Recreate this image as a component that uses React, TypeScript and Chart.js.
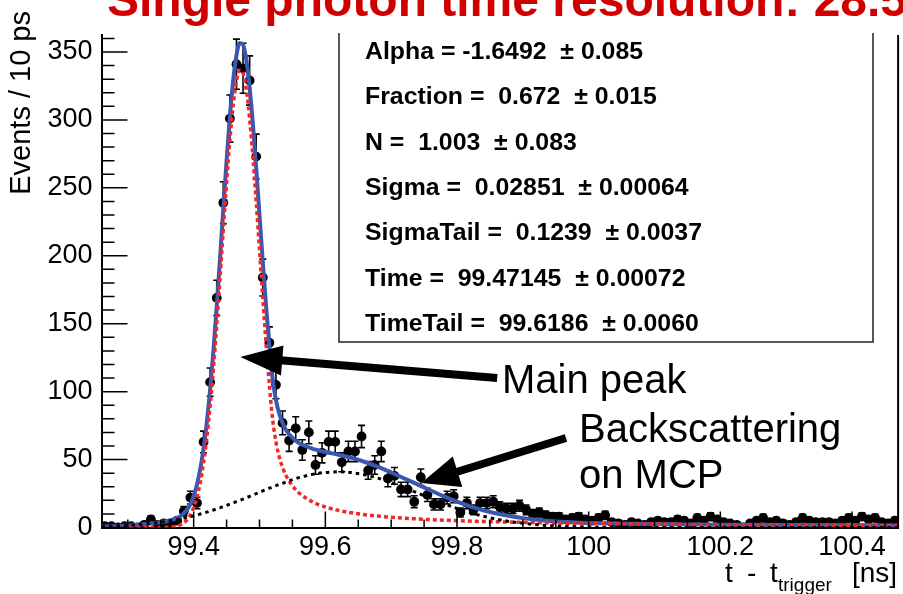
import { useEffect, useRef } from 'react';
import { Chart, registerables } from 'chart.js';

Chart.register(...registerables);

// ---- histogram binning (10 ps bins) ----
const binStart = 99.26;
const binWidth = 0.01;
const counts = [
  1, 1, 0, 1, 1, 0, 2, 6, 2, 3,
  2, 5, 12, 22, 18, 63, 107, 169, 239, 301,
  341, 338, 329, 273, 184, 136, 105, 77, 64, 73,
  57, 70, 46, 55, 63, 63, 48, 56, 56, 67,
  42, 46, 56, 36, 38, 28, 28, 19, 37, 24,
  17, 17, 22, 23, 11, 18, 13, 18, 18, 19,
  15, 14, 14, 16, 13, 10, 11, 9, 8, 8,
  6, 7, 8, 6, 5, 7, 9, 4, 3, 2,
  4, 3, 2, 4, 5, 4, 4, 6, 5, 3,
  7, 5, 8, 6, 4, 3, 2, 0, 3, 5,
  7, 4, 5, 3, 2, 4, 7, 5, 4, 4,
  4, 3, 5, 7, 5, 8, 6, 7, 4, 3,
  5,
];

// ---- fit curves ----
const curveT = [
  99.26, 99.30, 99.34, 99.36, 99.38, 99.39, 99.395, 99.40, 99.405, 99.41,
  99.415, 99.42, 99.425, 99.43, 99.435, 99.44, 99.445, 99.45, 99.455, 99.46,
  99.465, 99.47, 99.475, 99.48, 99.485, 99.49, 99.495, 99.50, 99.505, 99.51,
  99.515, 99.52, 99.525, 99.53, 99.535, 99.54, 99.55, 99.56, 99.58, 99.60,
  99.62, 99.64, 99.66, 99.68, 99.70, 99.72, 99.74, 99.76, 99.78, 99.80,
  99.82, 99.84, 99.86, 99.88, 99.90, 99.94, 99.98, 100.02, 100.06, 100.10,
  100.15, 100.20, 100.25, 100.30, 100.35, 100.40, 100.47,
];
const fitTotal = [
  0.6, 1.5, 3.3, 4.8, 8.4, 13.2, 17.2, 23.2, 31.5, 42.9,
  58.1, 77.5, 101.5, 130.0, 162.5, 197.9, 234.5, 270.1, 302.5, 329.0,
  347.5, 356.6, 355.3, 344.1, 323.9, 296.6, 264.5, 230.0, 195.5, 163.0,
  133.8, 109.3, 93.8, 83.7, 76.9, 72.0, 65.9, 62.1, 58.1, 55.6,
  53.6, 51.2, 48.2, 44.7, 40.5, 36.1, 31.7, 27.2, 22.9, 19.0,
  15.6, 12.7, 10.3, 8.4, 6.9, 4.8, 3.7, 3.1, 2.8, 2.5,
  2.3, 2.1, 2.0, 1.9, 1.8, 1.7, 1.5,
];
const fitMainPeak = [
  0, 0, 0, 0.2, 2.0, 5.7, 9.2, 14.6, 22.3, 33.0,
  47.5, 66.2, 89.4, 117.1, 148.8, 183.4, 219.1, 253.9, 285.3, 310.9,
  328.5, 336.6, 334.4, 322.2, 301.0, 272.7, 239.6, 204.1, 168.6, 135.1,
  104.9, 79.4, 63.0, 51.9, 44.3, 38.5, 30.7, 25.4, 19.0, 15.1,
  12.6, 10.8, 9.4, 8.4, 7.5, 6.8, 6.3, 5.8, 5.4, 5.0,
  4.7, 4.4, 4.2, 4.0, 3.8, 3.4, 3.1, 2.9, 2.7, 2.5,
  2.3, 2.1, 2.0, 1.9, 1.8, 1.7, 1.5,
];
const fitBackscatter = [
  0.6, 1.5, 3.3, 4.6, 6.4, 7.5, 8.0, 8.6, 9.2, 9.9,
  10.6, 11.3, 12.1, 12.9, 13.7, 14.5, 15.4, 16.2, 17.2, 18.1,
  19.0, 20.0, 20.9, 21.9, 22.9, 23.9, 24.9, 25.9, 26.9, 27.9,
  28.9, 29.9, 30.8, 31.8, 32.6, 33.5, 35.2, 36.7, 39.1, 40.5,
  41.0, 40.4, 38.8, 36.3, 33.0, 29.3, 25.4, 21.4, 17.5, 14.0,
  10.9, 8.3, 6.1, 4.4, 3.1, 1.4, 0.6, 0.2, 0.1, 0,
  0, 0, 0, 0, 0, 0, 0,
];

// ---- axes ----
const xMin = 99.26;
const xMax = 100.47;
const yMin = 0;
const yMax = 362.5;
const xTickValues = [99.4, 99.6, 99.8, 100, 100.2, 100.4];
const xTickLabels = ['99.4', '99.6', '99.8', '100', '100.2', '100.4'];
const yTickValues = [0, 50, 100, 150, 200, 250, 300, 350];
const yTickLabels = ['0', '50', '100', '150', '200', '250', '300', '350'];

const titleText = 'Single photon time resolution: 28.5 ps';
const yTitle = 'Events / 10 ps';

// ---- fit parameter box ----
const statNames = ['Alpha', 'Fraction', 'N', 'Sigma', 'SigmaTail', 'Time', 'TimeTail'];
const statValues = ['-1.6492', '0.672', '1.003', '0.02851', '0.1239', '99.47145', '99.6186'];
const statErrors = ['0.085', '0.015', '0.083', '0.00064', '0.0037', '0.00072', '0.0060'];

// ---- annotations (data coordinates) ----
const mainArrow = { from: [99.861, 110.0], to: [99.4709, 125.5] };
const backArrow = { from: [99.9655, 65.9], to: [99.7457, 32.8] };
const annotations = [
  { text: 'Main peak', at: [99.8684, 99.0] },
  { text: 'Backscattering', at: [99.9853, 62.9] },
  { text: 'on MCP', at: [99.9853, 29.1] },
];

const FONT = "'Liberation Sans', Arial, Helvetica, sans-serif";

function drawArrow(ctx: CanvasRenderingContext2D, x0: number, y0: number, x1: number, y1: number, headLen: number, headHalf: number, width: number) {
  const dx = x1 - x0;
  const dy = y1 - y0;
  const L = Math.hypot(dx, dy);
  const ux = dx / L;
  const uy = dy / L;
  const bx = x1 - ux * headLen;
  const by = y1 - uy * headLen;
  ctx.beginPath();
  ctx.lineWidth = width;
  ctx.lineCap = 'butt';
  ctx.moveTo(x0, y0);
  ctx.lineTo(bx + ux * 2, by + uy * 2);
  ctx.stroke();
  ctx.beginPath();
  ctx.moveTo(x1, y1);
  ctx.lineTo(bx - uy * headHalf, by + ux * headHalf);
  ctx.lineTo(bx + uy * headHalf, by - ux * headHalf);
  ctx.closePath();
  ctx.fill();
}

const rootOverlay = {
  id: 'rootOverlay',
  beforeDatasetsDraw(chart: any) {
    const { ctx, chartArea: a, scales } = chart;
    const x = scales.x;
    const y = scales.y;
    ctx.save();
    ctx.beginPath();
    ctx.rect(a.left, a.top, a.right - a.left, a.bottom - a.top);
    ctx.clip();
    ctx.strokeStyle = '#000';
    ctx.lineWidth = 1.6;
    counts.forEach((n, i) => {
      const c = binStart + (i + 0.5) * binWidth;
      const e = Math.sqrt(n);
      const px = x.getPixelForValue(c);
      const py = y.getPixelForValue(n);
      const pHi = y.getPixelForValue(n + e);
      const pLo = y.getPixelForValue(n - e);
      const xl = x.getPixelForValue(c - binWidth / 2);
      const xr = x.getPixelForValue(c + binWidth / 2);
      ctx.beginPath();
      ctx.moveTo(px, pLo);
      ctx.lineTo(px, pHi);
      ctx.moveTo(xl, py);
      ctx.lineTo(xr, py);
      if (e > 0) {
        ctx.moveTo(px - 3.5, pHi);
        ctx.lineTo(px + 3.5, pHi);
        ctx.moveTo(px - 3.5, pLo);
        ctx.lineTo(px + 3.5, pLo);
      }
      ctx.stroke();
    });
    ctx.restore();
  },
  afterDraw(chart: any) {
    const { ctx, chartArea: a, scales } = chart;
    const x = scales.x;
    const y = scales.y;
    ctx.save();
    ctx.strokeStyle = '#000';
    ctx.fillStyle = '#000';

    // inward tick marks
    ctx.lineWidth = 1.5;
    ctx.beginPath();
    for (let k = 0; k * 10 <= yMax; k++) {
      const py = y.getPixelForValue(k * 10);
      const len = k % 5 === 0 ? 26 : 13;
      ctx.moveTo(a.left, py);
      ctx.lineTo(a.left + len, py);
    }
    for (let k = Math.ceil(xMin / 0.05 - 1e-9); k * 0.05 <= xMax + 1e-9; k++) {
      const px = x.getPixelForValue(k * 0.05);
      const len = k % 4 === 0 ? 16 : 8;
      ctx.moveTo(px, a.bottom);
      ctx.lineTo(px, a.bottom - len);
    }
    ctx.stroke();

    // right frame edge
    ctx.lineWidth = 2;
    ctx.beginPath();
    ctx.moveTo(a.right, a.top);
    ctx.lineTo(a.right, a.bottom);
    ctx.stroke();

    // fit parameter box
    ctx.lineWidth = 1.5;
    ctx.strokeStyle = '#222';
    ctx.beginPath();
    ctx.moveTo(339, 33);
    ctx.lineTo(339, 342);
    ctx.lineTo(873, 342);
    ctx.lineTo(873, 33);
    ctx.stroke();
    ctx.fillStyle = '#000';
    ctx.font = `bold 23px ${FONT}`;
    ctx.textAlign = 'left';
    ctx.textBaseline = 'alphabetic';
    statNames.forEach((name, i) => {
      const val = statValues[i];
      const sep = val.startsWith('-') ? ' = ' : ' =  ';
      const s = `${name}${sep}${val}  \u00b1 ${statErrors[i]}`;
      ctx.save();
      ctx.translate(365, 59 + i * 45.3);
      ctx.scale(1.08, 1);
      ctx.fillText(s, 0, 0);
      ctx.restore();
    });

    // arrows
    ctx.fillStyle = '#000';
    ctx.strokeStyle = '#000';
    drawArrow(
      ctx,
      x.getPixelForValue(mainArrow.from[0]), y.getPixelForValue(mainArrow.from[1]),
      x.getPixelForValue(mainArrow.to[0]), y.getPixelForValue(mainArrow.to[1]),
      42, 15, 8,
    );
    drawArrow(
      ctx,
      x.getPixelForValue(backArrow.from[0]), y.getPixelForValue(backArrow.from[1]),
      x.getPixelForValue(backArrow.to[0]), y.getPixelForValue(backArrow.to[1]),
      38, 16, 8,
    );

    // annotation text
    ctx.font = `40px ${FONT}`;
    ctx.textAlign = 'left';
    ctx.textBaseline = 'alphabetic';
    annotations.forEach((an) => {
      ctx.fillText(an.text, x.getPixelForValue(an.at[0]), y.getPixelForValue(an.at[1]));
    });

    // title
    ctx.fillStyle = '#d10000';
    ctx.font = `bold 48px ${FONT}`;
    ctx.fillText(titleText, 107, 15.5);

    // y-axis title
    ctx.fillStyle = '#000';
    ctx.save();
    ctx.translate(30, 11);
    ctx.rotate(-Math.PI / 2);
    ctx.font = `29px ${FONT}`;
    ctx.textAlign = 'right';
    ctx.fillText(yTitle, 0, 0);
    ctx.restore();

    // x-axis title: t - t_trigger [ns]
    ctx.font = `28px ${FONT}`;
    ctx.textAlign = 'left';
    ctx.fillText('t', 725, 582);
    ctx.fillText('-', 747, 582);
    ctx.fillText('t', 770, 582);
    ctx.font = `19px ${FONT}`;
    ctx.fillText('trigger', 778, 591);
    ctx.font = `28px ${FONT}`;
    ctx.fillText('[ns]', 852, 582);

    ctx.restore();
  },
};

export default function App() {
  const canvasRef = useRef<HTMLCanvasElement | null>(null);

  useEffect(() => {
    const canvas = canvasRef.current;
    if (!canvas) return;
    const histPoints = counts.map((n, i) => ({ x: binStart + (i + 0.5) * binWidth, y: n }));
    const mk = (vals: number[]) => curveT.map((t, i) => ({ x: t, y: vals[i] }));

    const chart = new Chart(canvas, {
      type: 'scatter',
      data: {
        datasets: [
          {
            type: 'line',
            label: 'Backscattering component',
            data: mk(fitBackscatter),
            borderColor: '#000000',
            borderWidth: 3,
            borderDash: [3.5, 4],
            pointRadius: 0,
            cubicInterpolationMode: 'monotone',
            fill: false,
            order: 1,
          },
          {
            type: 'line',
            label: 'Main peak component',
            data: mk(fitMainPeak),
            borderColor: '#f02828',
            borderWidth: 3.5,
            borderDash: [4, 3],
            pointRadius: 0,
            cubicInterpolationMode: 'monotone',
            fill: false,
            order: 2,
          },
          {
            type: 'line',
            label: 'Total fit',
            data: mk(fitTotal),
            borderColor: '#3a58b0',
            borderWidth: 4,
            pointRadius: 0,
            cubicInterpolationMode: 'monotone',
            fill: false,
            order: 3,
          },
          {
            type: 'scatter',
            label: 'Data',
            data: histPoints,
            pointRadius: 4.9,
            pointBackgroundColor: '#000',
            pointBorderWidth: 0,
            pointBorderColor: '#000',
            order: 4,
          },
        ],
      } as any,
      options: {
        animation: false,
        responsive: false,
        devicePixelRatio: 1,
        events: [],
        layout: { padding: { left: 0, right: 903 - 898.5, top: 35, bottom: 0 } },
        plugins: { legend: { display: false }, tooltip: { enabled: false }, title: { display: false } },
        scales: {
          x: {
            type: 'linear',
            min: xMin,
            max: xMax,
            afterBuildTicks: (s: any) => {
              s.ticks = xTickValues.map((value) => ({ value }));
            },
            afterFit: (s: any) => {
              s.height = 594 - 527.5;
            },
            ticks: {
              autoSkip: false,
              maxRotation: 0,
              padding: -4,
              color: '#000',
              font: { family: FONT, size: 27 },
              callback: (v: any) => {
                const i = xTickValues.findIndex((t) => Math.abs(t - Number(v)) < 1e-9);
                return i >= 0 ? xTickLabels[i] : '';
              },
            },
            grid: { display: false },
            border: { display: true, color: '#000', width: 2 },
          },
          y: {
            type: 'linear',
            min: yMin,
            max: yMax,
            afterBuildTicks: (s: any) => {
              s.ticks = yTickValues.map((value) => ({ value }));
            },
            afterFit: (s: any) => {
              s.width = 101.5;
            },
            ticks: {
              autoSkip: false,
              padding: 1,
              color: '#000',
              font: { family: FONT, size: 27 },
              callback: (v: any) => {
                const i = yTickValues.findIndex((t) => Math.abs(t - Number(v)) < 1e-9);
                return i >= 0 ? yTickLabels[i] : '';
              },
            },
            grid: { display: false },
            border: { display: true, color: '#000', width: 2 },
          },
        },
      } as any,
      plugins: [rootOverlay],
    });

    return () => {
      chart.destroy();
    };
  }, []);

  return (
    <div style={{ position: 'fixed', left: 0, top: 0, width: 903, height: 594, background: '#fff' }}>
      <canvas ref={canvasRef} width={903} height={594} style={{ display: 'block', width: 903, height: 594 }} />
    </div>
  );
}
